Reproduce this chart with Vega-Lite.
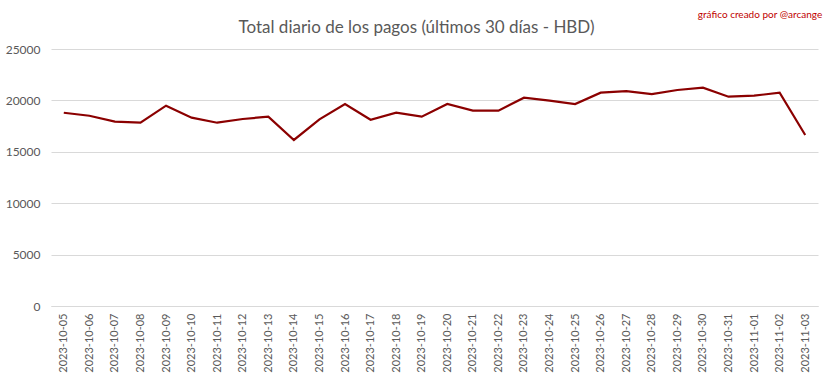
{
  "$schema": "https://vega.github.io/schema/vega-lite/v6.json",
  "autosize": "none",
  "width": 767,
  "height": 257,
  "padding": {"left": 51, "top": 49, "right": 15, "bottom": 73},
  "background": "white",
  "title": {
    "text": "Total diario de los pagos (últimos 30 días - HBD)",
    "font": "Lato",
    "fontSize": 17,
    "fontWeight": "normal",
    "color": "#595959",
    "anchor": "middle",
    "frame": "group",
    "dx": -18,
    "offset": -27
  },
  "config": {
    "view": {"stroke": null},
    "font": "Lato"
  },
  "data": {
    "values": [
      {"fecha": "2023-10-05", "total": 18800},
      {"fecha": "2023-10-06", "total": 18510},
      {"fecha": "2023-10-07", "total": 17930},
      {"fecha": "2023-10-08", "total": 17830},
      {"fecha": "2023-10-09", "total": 19490},
      {"fecha": "2023-10-10", "total": 18320},
      {"fecha": "2023-10-11", "total": 17830},
      {"fecha": "2023-10-12", "total": 18190},
      {"fecha": "2023-10-13", "total": 18420},
      {"fecha": "2023-10-14", "total": 16150},
      {"fecha": "2023-10-15", "total": 18160},
      {"fecha": "2023-10-16", "total": 19650},
      {"fecha": "2023-10-17", "total": 18120},
      {"fecha": "2023-10-18", "total": 18800},
      {"fecha": "2023-10-19", "total": 18420},
      {"fecha": "2023-10-20", "total": 19650},
      {"fecha": "2023-10-21", "total": 19000},
      {"fecha": "2023-10-22", "total": 19000},
      {"fecha": "2023-10-23", "total": 20260},
      {"fecha": "2023-10-24", "total": 19970},
      {"fecha": "2023-10-25", "total": 19650},
      {"fecha": "2023-10-26", "total": 20750},
      {"fecha": "2023-10-27", "total": 20910},
      {"fecha": "2023-10-28", "total": 20620},
      {"fecha": "2023-10-29", "total": 21010},
      {"fecha": "2023-10-30", "total": 21240},
      {"fecha": "2023-10-31", "total": 20360},
      {"fecha": "2023-11-01", "total": 20460},
      {"fecha": "2023-11-02", "total": 20750},
      {"fecha": "2023-11-03", "total": 16630}
    ]
  },
  "layer": [
    {
      "mark": {"type": "line", "color": "#8b0000", "strokeWidth": 2.2},
      "encoding": {
        "x": {
          "field": "fecha",
          "type": "ordinal",
          "scale": {"type": "point", "padding": 0.5},
          "axis": {
            "title": null,
            "labelAngle": -90,
            "labelFontSize": 11,
            "labelColor": "#595959",
            "labelPadding": 7,
            "ticks": false,
            "domainColor": "#d9d9d9",
            "grid": false
          }
        },
        "y": {
          "field": "total",
          "type": "quantitative",
          "scale": {"domain": [0, 25000], "nice": false},
          "axis": {
            "title": null,
            "values": [0, 5000, 10000, 15000, 20000, 25000],
            "format": "d",
            "labelFontSize": 12,
            "labelColor": "#595959",
            "labelPadding": 11,
            "ticks": false,
            "domain": false,
            "gridColor": "#d9d9d9"
          }
        }
      }
    },
    {
      "data": {"values": [{"fecha": "2023-11-03", "total": 28300, "texto": "gráfico creado por @arcange"}]},
      "mark": {"type": "text", "align": "right", "baseline": "middle", "dx": 17, "fontSize": 10, "color": "#c00000", "clip": false},
      "encoding": {
        "x": {"field": "fecha", "type": "ordinal"},
        "y": {"field": "total", "type": "quantitative"},
        "text": {"field": "texto"}
      }
    }
  ]
}
